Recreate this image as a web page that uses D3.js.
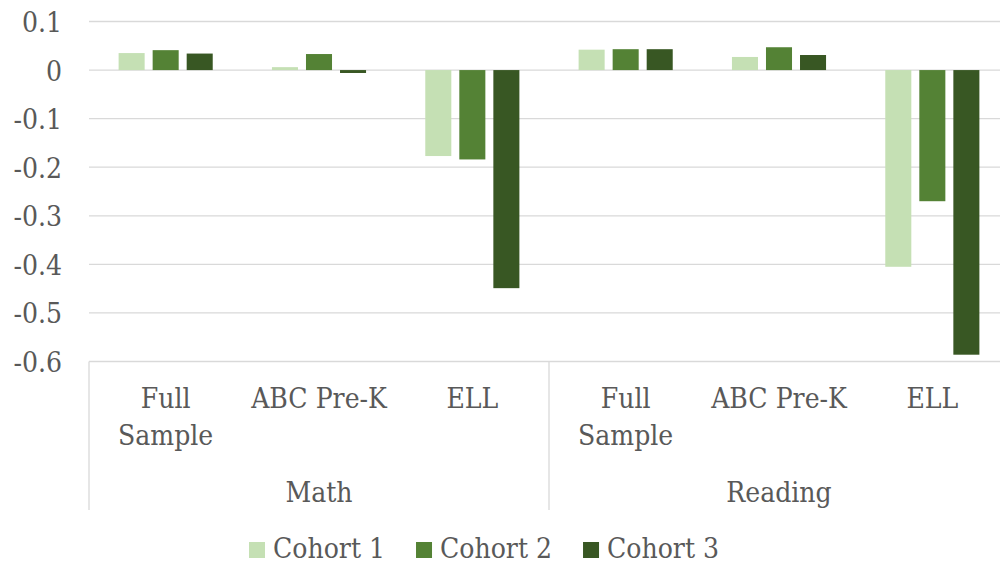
<!DOCTYPE html>
<html>
<head>
<meta charset="utf-8">
<script src="https://cdn.jsdelivr.net/npm/d3@7"></script>
<style>
  html, body { margin: 0; padding: 0; background: #fff; }
  svg { display: block; }
</style>
</head>
<body>
<svg id="chart" width="1000" height="565"></svg>
<script>
// ---- data ----
const groups = ["Math", "Reading"];
const subcategories = ["Full Sample", "ABC Pre-K", "ELL"];
const cohorts = ["Cohort 1", "Cohort 2", "Cohort 3"];
const cohort1 = [0.035, 0.006, -0.177, 0.042, 0.027, -0.405];
const cohort2 = [0.041, 0.033, -0.184, 0.043, 0.047, -0.270];
const cohort3 = [0.034, -0.006, -0.449, 0.043, 0.031, -0.586];
const yTicks = [0.1, 0, -0.1, -0.2, -0.3, -0.4, -0.5, -0.6];
const yTickLabels = ["0.1", "0", "-0.1", "-0.2", "-0.3", "-0.4", "-0.5", "-0.6"];
const colors = ["#c5e0b4", "#548235", "#385723"];

// ---- build ----
const categories = [];
groups.forEach(g => subcategories.forEach(s => categories.push(g + "|" + s)));
const seriesValues = [cohort1, cohort2, cohort3];

const FONT = "'DejaVu Serif Condensed', 'DejaVu Serif', serif";
const svg = d3.select("#chart")
  .style("font-family", FONT);
const mLeft = 89, mRight = 1009, mTop = 21.5, mBottom = 361.5;

const y = d3.scaleLinear().domain([-0.6, 0.1]).range([mBottom, mTop]);
const x0 = d3.scaleBand().domain(categories).range([mLeft, mRight]).padding(0);
const x1 = d3.scaleBand().domain(cohorts).range([0, x0.bandwidth()])
  .paddingInner(0.235).paddingOuter(0.87);
const xg = d3.scaleBand().domain(groups).range([mLeft, mRight]).padding(0);

function styleText(sel) {
  return sel.style("font-family", FONT).style("font-stretch", "condensed")
    .attr("fill", "#595959").attr("font-size", 28);
}

// gridlines
svg.append("g").selectAll("line").data(yTicks).join("line")
  .attr("x1", mLeft).attr("x2", mRight)
  .attr("y1", d => y(d)).attr("y2", d => y(d))
  .attr("stroke", "#d9d9d9").attr("stroke-width", 1.3);

// y labels
svg.append("g").selectAll("text").data(yTicks).join("text")
  .attr("x", 62).attr("y", d => y(d) + 10.5)
  .attr("text-anchor", "end")
  .call(styleText)
  .text((d, i) => yTickLabels[i]);

// bars
const barData = [];
seriesValues.forEach((vals, si) => vals.forEach((v, ci) => barData.push({ cat: categories[ci], cohort: cohorts[si], v, si })));
svg.append("g").selectAll("rect").data(barData).join("rect")
  .attr("x", d => x0(d.cat) + x1(d.cohort))
  .attr("width", x1.bandwidth())
  .attr("y", d => y(Math.max(0, d.v)))
  .attr("height", d => Math.abs(y(d.v) - y(0)))
  .attr("fill", d => colors[d.si]);

// group separators (multi-level axis)
const sepX = [mLeft].concat(groups.map(g => xg(g) + xg.bandwidth()));
svg.append("g").selectAll("line").data(sepX).join("line")
  .attr("x1", d => d).attr("x2", d => d)
  .attr("y1", mBottom).attr("y2", 510)
  .attr("stroke", "#d9d9d9").attr("stroke-width", 1.3);

// subcategory labels
const catLabels = svg.append("g");
categories.forEach(c => {
  const sub = c.split("|")[1];
  const words = sub === "Full Sample" ? ["Full", "Sample"] : [sub];
  const t = catLabels.append("text")
    .attr("x", x0(c) + x0.bandwidth() / 2)
    .attr("text-anchor", "middle").call(styleText);
  words.forEach((w, i) => t.append("tspan")
    .attr("x", x0(c) + x0.bandwidth() / 2)
    .attr("y", 408 + i * 37).text(w));
});

// group labels
svg.append("g").selectAll("text").data(groups).join("text")
  .attr("x", d => xg(d) + xg.bandwidth() / 2)
  .attr("y", 502).attr("text-anchor", "middle").call(styleText)
  .text(d => d);

// legend
const leg = svg.append("g");
let lx = 249;
cohorts.forEach((c, i) => {
  leg.append("rect").attr("x", lx).attr("y", 542).attr("width", 16).attr("height", 16).attr("fill", colors[i]);
  const t = leg.append("text").attr("x", lx + 24).attr("y", 557.5).call(styleText).text(c);
  lx = lx + 24 + t.node().getComputedTextLength() + 31;
});
</script>
</body>
</html>
